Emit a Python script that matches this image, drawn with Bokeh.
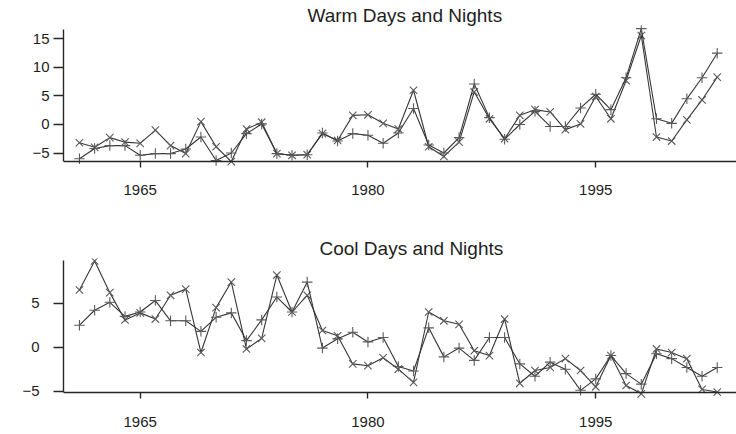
from bokeh.plotting import figure
from bokeh.layouts import column
from bokeh.models import Range1d, FixedTicker, LinearAxis
from bokeh.embed import file_html
from bokeh.resources import INLINE

years = list(range(1961, 2004))

warm_days = [-3.2, -4.0, -2.3, -3.1, -3.3, -1.0, -3.7, -5.1, 0.5, -3.9,
             -6.5, -0.8, 0.4, -5.1, -5.4, -5.3, -1.6, -2.8, 1.6, 1.7,
             0.2, -0.8, 6.0, -3.9, -5.6, -3.1, 5.7, 1.0, -2.5, 1.6,
             2.6, 2.2, -0.9, 0.1, 4.9, 1.0, 7.7, 15.6, -2.2, -2.9,
             0.8, 4.3, 8.3]
warm_nights = [-6.0, -4.2, -3.7, -3.7, -5.4, -5.1, -5.1, -4.3, -2.2, -6.3,
               -5.0, -1.6, 0.1, -5.1, -5.4, -5.3, -1.5, -2.9, -1.6, -1.9,
               -3.3, -1.5, 2.8, -3.6, -5.0, -2.3, 7.1, 1.2, -2.6, 0.0,
               2.3, -0.35, -0.35, 2.9, 5.3, 2.6, 8.2, 16.8, 1.0, 0.2,
               4.5, 8.2, 12.5]
cool_days = [6.5, 9.8, 6.2, 3.1, 3.9, 3.2, 5.9, 6.6, -0.6, 4.5,
             7.4, -0.2, 1.0, 8.2, 4.0, 5.9, 1.9, 1.3, -1.9, -2.1,
             -1.2, -2.5, -4.0, 4.0, 3.0, 2.6, -0.4, -0.95, 3.2, -4.1,
             -2.65, -2.3, -1.3, -2.65, -4.5, -0.95, -4.35, -5.3, -0.2, -0.6,
             -1.3, -4.8, -5.1]
cool_nights = [2.5, 4.2, 5.1, 3.5, 4.0, 5.3, 3.0, 3.0, 1.8, 3.4,
               3.9, 0.75, 3.1, 5.7, 4.0, 7.4, -0.1, 0.95, 1.7, 0.6,
               1.1, -2.2, -2.7, 2.2, -1.1, -0.1, -1.5, 1.1, 1.1, -1.9,
               -3.3, -1.7, -2.5, -4.9, -3.6, -0.95, -3.0, -4.2, -0.75, -1.3,
               -2.3, -3.3, -2.3]

year_ticks = [1965, 1980, 1995]
warm_ticks = [-5, 0, 5, 10, 15]
cool_ticks = [-5, 0, 5]

FONT = "Liberation Sans"
LINE_C = "#363636"
MARK_C = "#5a5a5a"
AXIS_C = "#262626"
TEXT_C = "#1e1e1e"


def style_axis(ax):
    ax.axis_line_color = AXIS_C
    ax.axis_line_width = 1.4
    ax.major_tick_line_color = AXIS_C
    ax.major_tick_line_width = 1.4
    ax.major_tick_out = 10
    ax.major_tick_in = 0
    ax.minor_tick_line_color = None
    ax.major_label_text_font = FONT
    ax.major_label_text_font_size = "15px"
    ax.major_label_text_color = TEXT_C


def panel(title, days, nights, yticks, yrange, ybounds, height, bl, bt, bb,
          title_offset, ystand, xstand):
    p = figure(width=736, height=height, title=title,
               x_range=Range1d(1959.95, 2004.27), y_range=Range1d(*yrange),
               output_backend="svg", toolbar_location=None,
               min_border_left=bl, min_border_right=0,
               min_border_top=bt, min_border_bottom=bb)
    p.title.align = "left"
    p.title.offset = title_offset
    p.title.standoff = 0
    p.title.text_font = FONT
    p.title.text_font_size = "19px"
    p.title.text_font_style = "normal"
    p.title.text_color = TEXT_C

    p.outline_line_color = None
    p.xgrid.visible = False
    p.ygrid.visible = False
    p.background_fill_color = "white"
    p.border_fill_color = "white"

    # y axis
    yax = p.yaxis[0]
    style_axis(yax)
    yax.ticker = FixedTicker(ticks=yticks)
    yax.bounds = ybounds
    yax.major_label_standoff = ystand

    # x axis labels only (at frame bottom)
    xlab = p.xaxis[0]
    style_axis(xlab)
    xlab.ticker = FixedTicker(ticks=year_ticks)
    xlab.axis_line_color = None
    xlab.major_tick_line_color = None
    xlab.major_tick_out = 0
    xlab.major_label_standoff = xstand

    # x axis line + ticks at the box bottom
    xline = LinearAxis(ticker=FixedTicker(ticks=year_ticks),
                       fixed_location=ybounds[0])
    style_axis(xline)
    xline.major_label_text_color = None
    xline.major_label_text_font_size = "0px"
    p.add_layout(xline, "below")

    for vals, mk in ((days, "x"), (nights, "cross")):
        p.line(years, vals, line_color=LINE_C, line_width=1.1)
        p.scatter(years, vals, marker=mk, size=10.5, line_color=MARK_C,
                  line_width=1.1, fill_color=None)
    return p


top = panel("Warm Days and Nights", warm_days, warm_nights, warm_ticks,
            (-7.54, 17.35), (-6.44, 16.6), 228, 63, 25, 61, 244, 4, 17)
bottom = panel("Cool Days and Nights", cool_days, cool_nights, cool_ticks,
               (-5.83, 10.08), (-5.18, 9.85), 206, 50, 30, 36, 256, 14, 18)

layout = column(top, bottom, spacing=0)
open("out.html", "w").write(file_html(layout, INLINE))
